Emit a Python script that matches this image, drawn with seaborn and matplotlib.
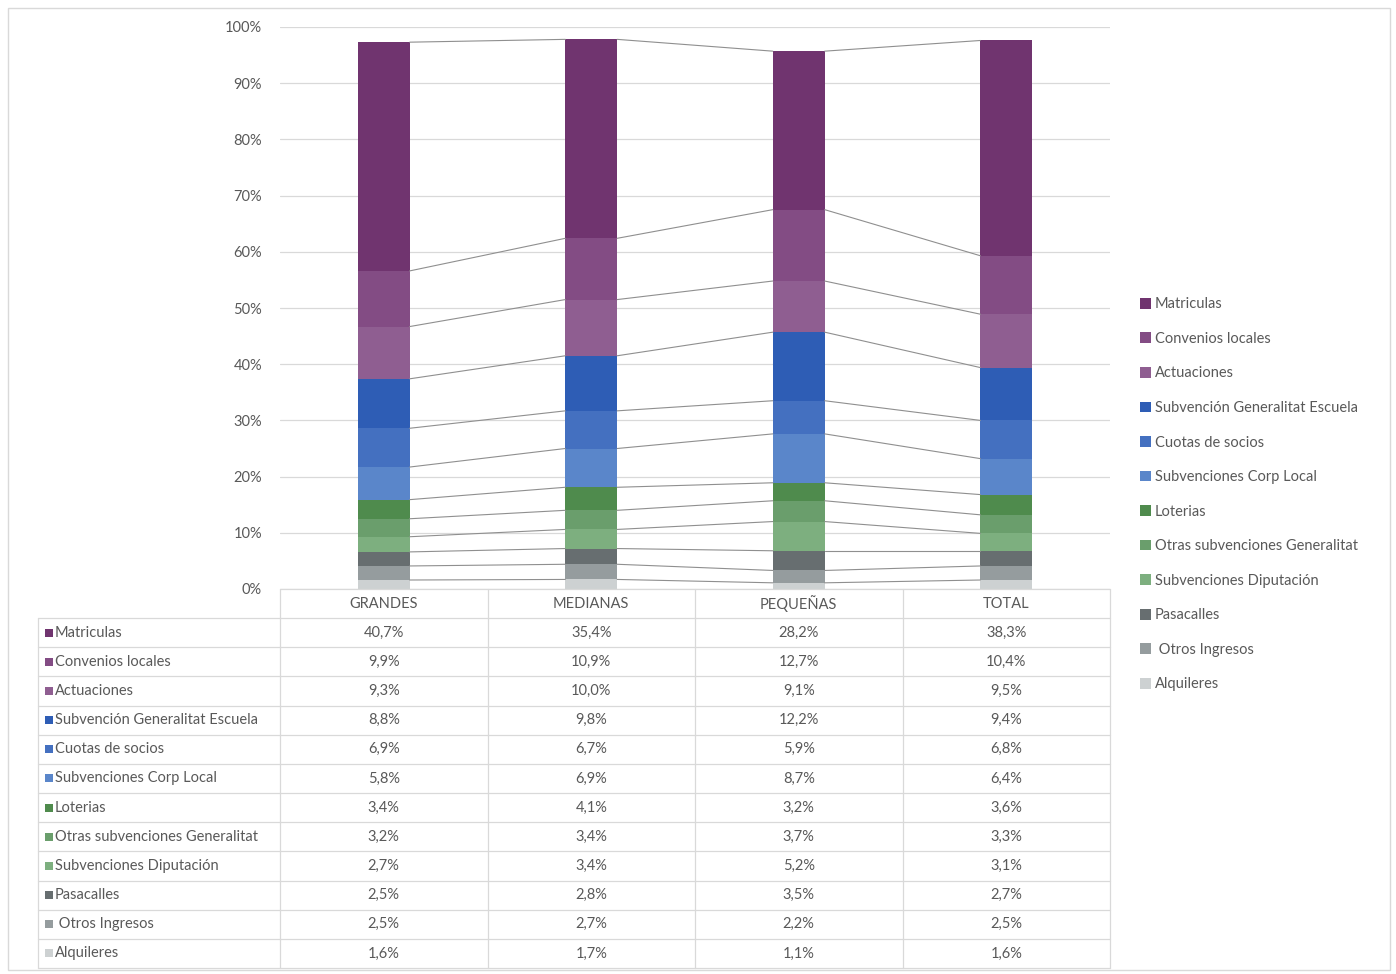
import numpy as np
import pandas as pd
import matplotlib
matplotlib.use("Agg")
import matplotlib.pyplot as plt
import seaborn as sns
from matplotlib.patches import Rectangle

categories = ["GRANDES", "MEDIANAS", "PEQUEÑAS", "TOTAL"]
series = ["Matriculas", "Convenios locales", "Actuaciones",
          "Subvención Generalitat Escuela", "Cuotas de socios",
          "Subvenciones Corp Local", "Loterias",
          "Otras subvenciones Generalitat", "Subvenciones Diputación",
          "Pasacalles", " Otros Ingresos", "Alquileres"]
grandes = [40.7, 9.9, 9.3, 8.8, 6.9, 5.8, 3.4, 3.2, 2.7, 2.5, 2.5, 1.6]
medianas = [35.4, 10.9, 10.0, 9.8, 6.7, 6.9, 4.1, 3.4, 3.4, 2.8, 2.7, 1.7]
pequenas = [28.2, 12.7, 9.1, 12.2, 5.9, 8.7, 3.2, 3.7, 5.2, 3.5, 2.2, 1.1]
total = [38.3, 10.4, 9.5, 9.4, 6.8, 6.4, 3.6, 3.3, 3.1, 2.7, 2.5, 1.6]
colors = ["#70346F", "#834C84", "#8F5E91", "#2E5DB5", "#4470C0", "#5A86CA",
          "#4F8B4D", "#6A9E6C", "#7DAF7F", "#676E70", "#959C9E", "#CDD1D2"]

values = {"GRANDES": grandes, "MEDIANAS": medianas, "PEQUEÑAS": pequenas, "TOTAL": total}
rows = []
for c in categories:
    for s, v in zip(series, values[c]):
        rows.append({"category": c, "series": s, "value": v})
df = pd.DataFrame(rows)

sns.set_theme(style="white")
plt.rcParams['font.family'] = ['Lato', 'DejaVu Sans']
TXT = "#595959"
GRID = "#d9d9d9"

W, H = 1396, 974
fig = plt.figure(figsize=(W / 100, H / 100), dpi=100)
fig.patch.set_facecolor("white")

# plot area
L, R, B, T = 280, 1110, 589, 27
ax = fig.add_axes([L / W, 1 - B / H, (R - L) / W, (B - T) / H])

bw = 0.25
bottom = np.zeros(len(categories))
tops = {}
for s, col in zip(reversed(series), reversed(colors)):
    sub = df[df.series == s].set_index("category").loc[categories].reset_index()
    sns.barplot(data=sub, x="category", y="value", order=categories, color=col,
                width=bw, bottom=bottom.copy(), ax=ax, errorbar=None,
                saturation=1, linewidth=0)
    bottom = bottom + sub["value"].to_numpy()
    tops[s] = bottom.copy()

# series lines
for s in series:
    t = tops[s]
    for i in range(len(categories) - 1):
        ax.plot([i + bw / 2, i + 1 - bw / 2], [t[i], t[i + 1]],
                color="#8f8f8f", lw=0.8, zorder=3)

ax.set_xlim(-0.5, len(categories) - 0.5)
ax.set_ylim(0, 100)
ax.set_yticks(np.arange(0, 101, 10))
ax.set_yticklabels([f"{v}%" for v in range(0, 101, 10)], color=TXT, fontsize=10.5)
ax.tick_params(axis="y", length=0, pad=13)
ax.set_xticks([])
ax.set_xlabel("")
ax.set_ylabel("")
ax.yaxis.grid(True, color=GRID, lw=0.9)
ax.set_axisbelow(True)
for sp in ax.spines.values():
    sp.set_visible(False)

# data table
TL, TB = 38, 968
tax = fig.add_axes([TL / W, 1 - TB / H, (R - TL) / W, (TB - B) / H])
colw = (R - L) / len(categories)
xleft = -(L - TL) / colw
nrow = len(series)
rowh = (TB - 618) / nrow
hdr = -(618 - B) / rowh
tax.set_xlim(xleft, len(categories))
tax.set_ylim(nrow, hdr)
tax.axis("off")
for r in range(nrow + 1):
    tax.plot([xleft, len(categories)], [r, r], color=GRID, lw=0.9, clip_on=False)
tax.plot([0, len(categories)], [hdr, hdr], color=GRID, lw=0.9, clip_on=False)
for c in range(len(categories) + 1):
    tax.plot([c, c], [hdr, nrow], color=GRID, lw=0.9, clip_on=False)
tax.plot([xleft, xleft], [0, nrow], color=GRID, lw=0.9, clip_on=False)
for i, c in enumerate(categories):
    tax.text(i + 0.5, hdr / 2, c, ha="center", va="center", color=TXT, fontsize=10.5)
    for r, v in enumerate(values[c]):
        tax.text(i + 0.5, r + 0.5, f"{v:.1f}%".replace(".", ","), ha="center",
                 va="center", color=TXT, fontsize=10.5)
sq = 8 / colw
for r, (s, col) in enumerate(zip(series, colors)):
    x0 = xleft + 7 / colw
    tax.add_patch(Rectangle((x0, r + 0.5 - 0.14), sq, 0.28, color=col, lw=0))
    tax.text(x0 + sq + 2 / colw, r + 0.5, s, ha="left", va="center",
             color=TXT, fontsize=10.5)

# legend
handles = [Rectangle((0, 0), 1, 1, color=c, lw=0) for c in colors]
leg = fig.legend(handles, series, loc="upper left",
                 bbox_to_anchor=(1133 / W, 1 - 290 / H), frameon=False,
                 fontsize=10.5, handlelength=0.75, handleheight=0.75,
                 handletextpad=0.25, labelspacing=1.41, borderpad=0,
                 labelcolor=TXT)

# outer chart border
fig.add_artist(Rectangle((8 / W, 4 / H), (1390 - 8) / W, (970 - 8) / H,
                         transform=fig.transFigure, fill=False,
                         edgecolor=GRID, lw=1))

fig.savefig("out.png", dpi=100, facecolor="white")
